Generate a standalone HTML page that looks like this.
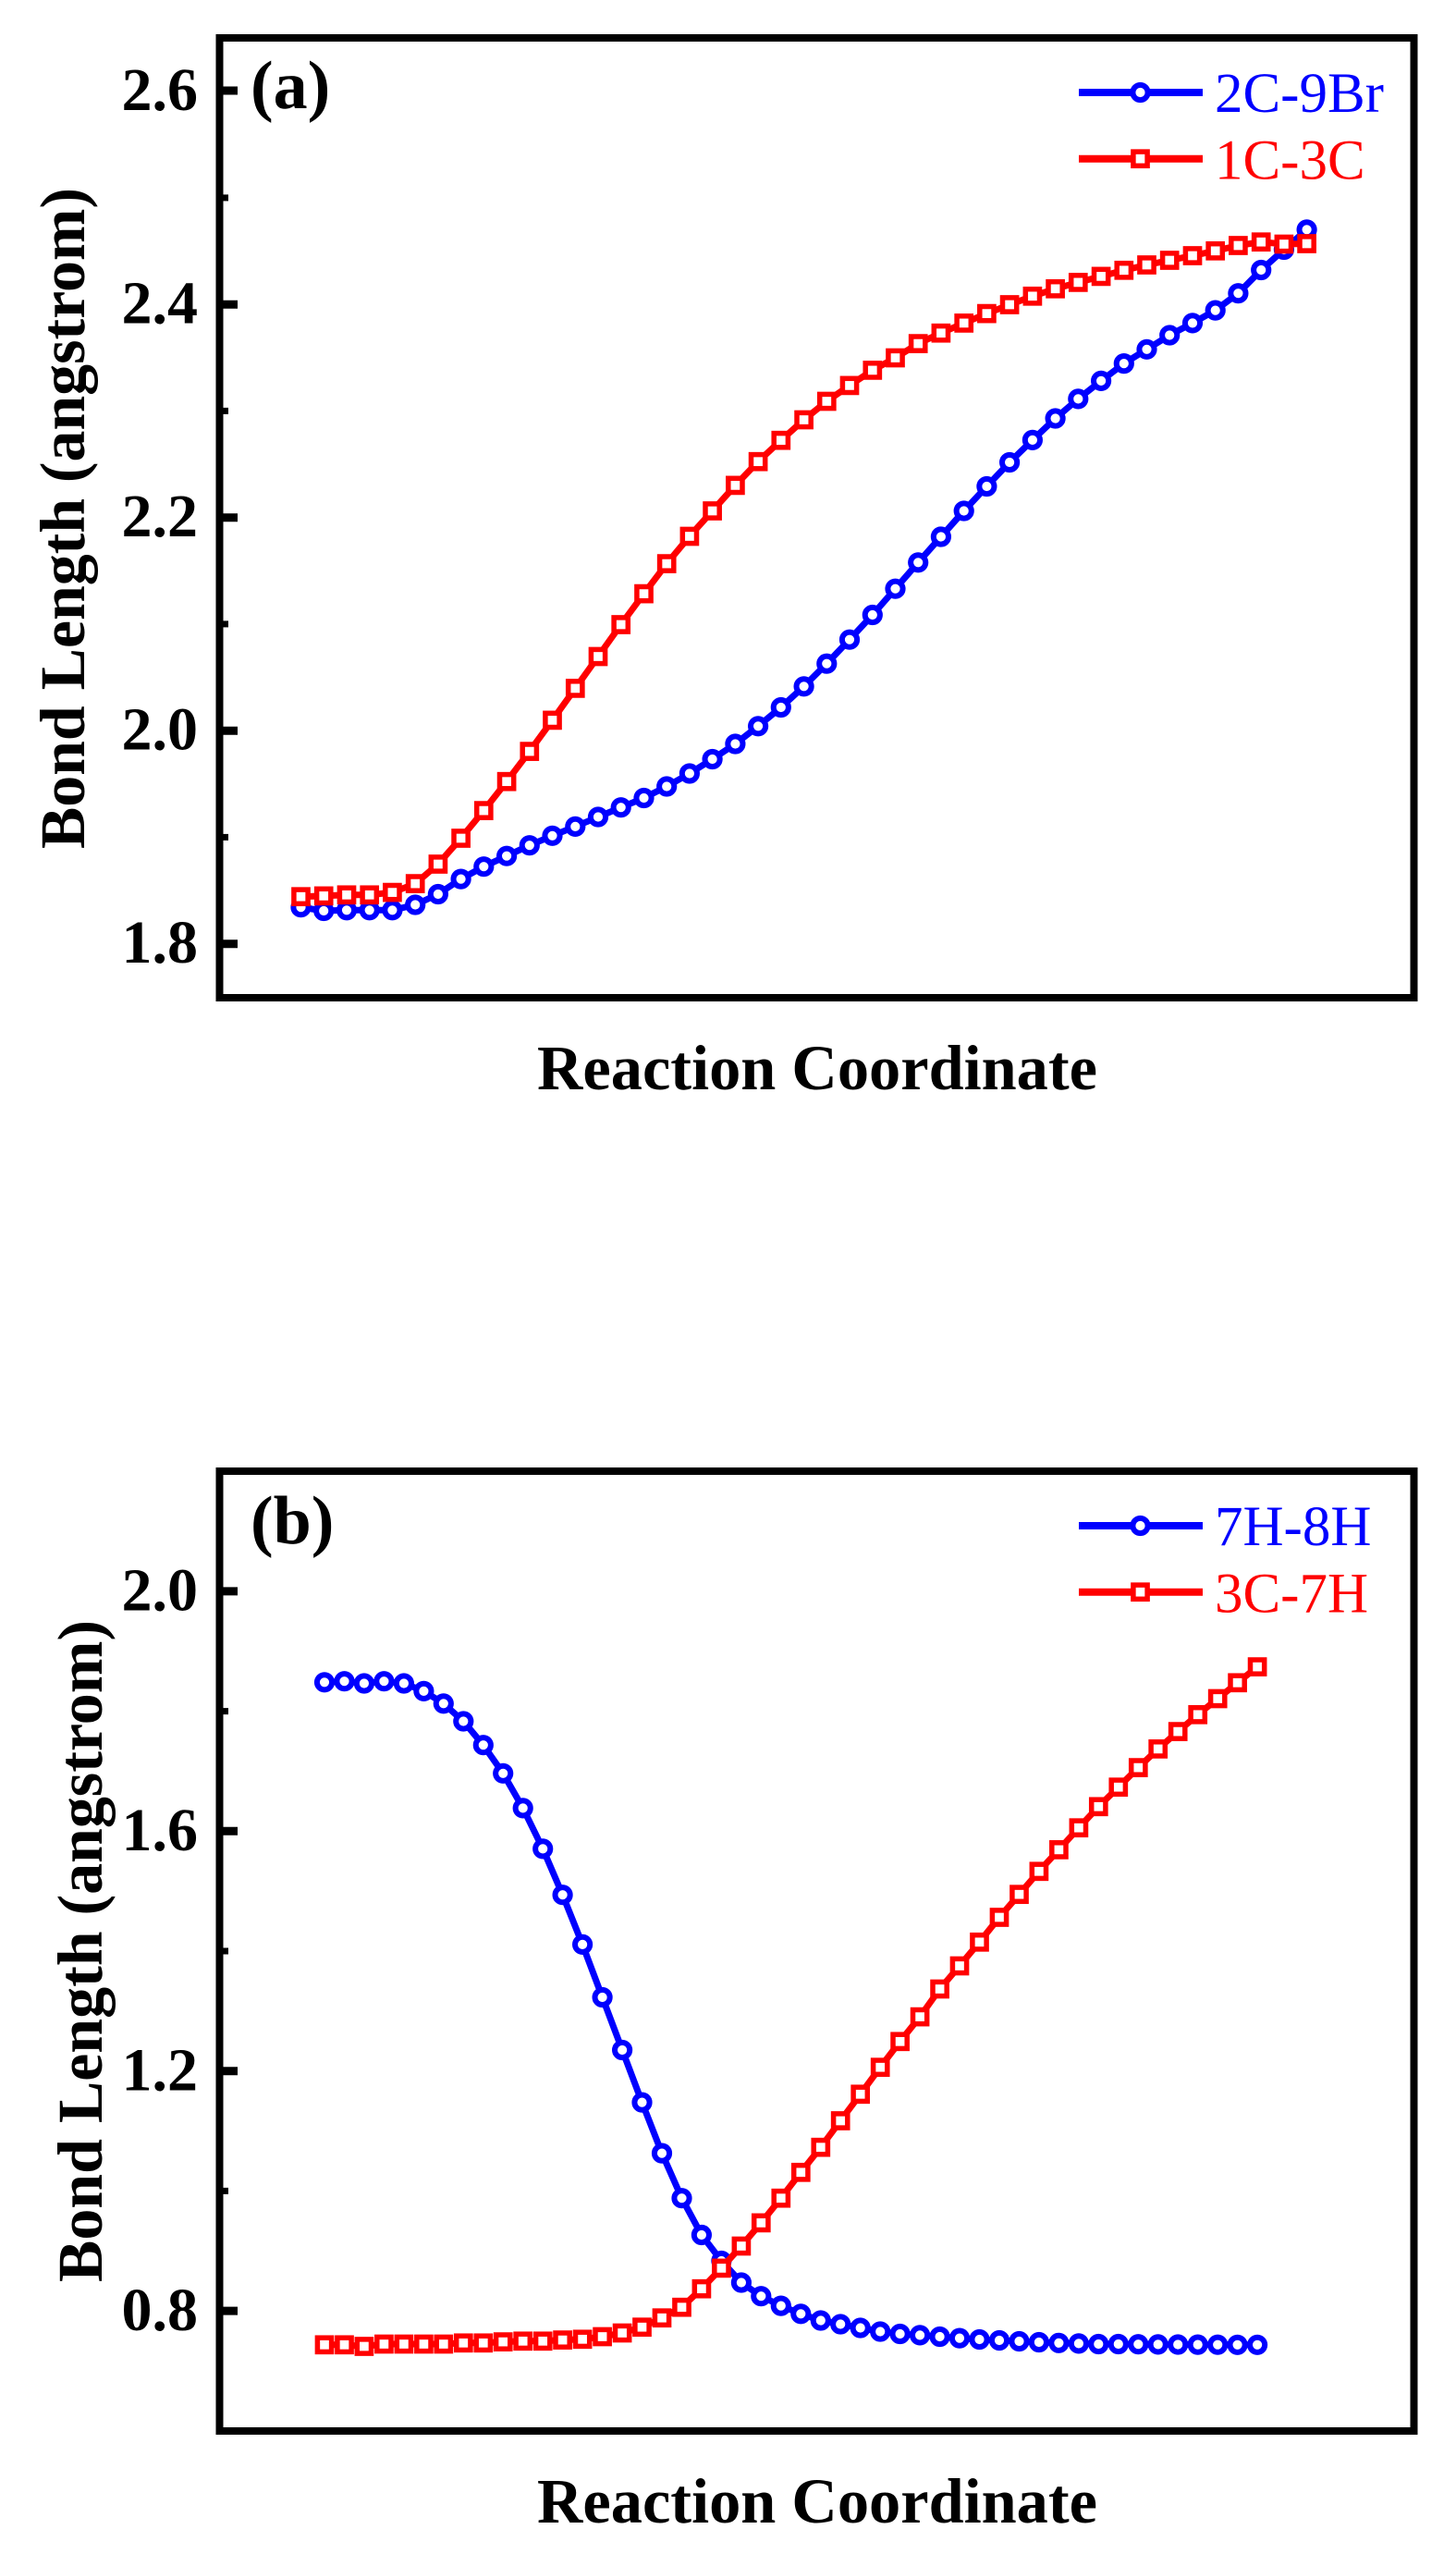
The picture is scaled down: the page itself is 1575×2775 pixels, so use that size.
<!DOCTYPE html>
<html>
<head>
<meta charset="utf-8">
<style>
  html, body { margin: 0; padding: 0; background: #ffffff; }
  svg { display: block; }
  text { font-family: "Liberation Serif", "Times New Roman", serif; }
</style>
</head>
<body>
<svg xmlns="http://www.w3.org/2000/svg" width="1575" height="2775" viewBox="0 0 1575 2775">
  <defs>
    <marker id="mcb" markerUnits="userSpaceOnUse" markerWidth="30" markerHeight="30" refX="15" refY="15" overflow="visible">
      <circle cx="15" cy="15" r="8.1" fill="#ffffff" stroke="#0000ff" stroke-width="6"/>
    </marker>
    <marker id="msr" markerUnits="userSpaceOnUse" markerWidth="30" markerHeight="30" refX="15" refY="15" overflow="visible">
      <rect x="7.4" y="7.4" width="15.2" height="15.2" fill="#ffffff" stroke="#ff0000" stroke-width="5.5"/>
    </marker>
  </defs>
  <rect x="0" y="0" width="1575" height="2775" fill="#ffffff"/>

  <!-- ================= PANEL (a) ================= -->
  <g>
    <!-- ticks -->
    <g stroke="#000">
      <g stroke-width="9">
        <line x1="237" y1="98" x2="257" y2="98"/>
        <line x1="237" y1="329.2" x2="257" y2="329.2"/>
        <line x1="237" y1="559.7" x2="257" y2="559.7"/>
        <line x1="237" y1="790.2" x2="257" y2="790.2"/>
        <line x1="237" y1="1020.7" x2="257" y2="1020.7"/>
      </g>
      <g stroke-width="7">
        <line x1="237" y1="213.9" x2="247" y2="213.9"/>
        <line x1="237" y1="444.4" x2="247" y2="444.4"/>
        <line x1="237" y1="674.9" x2="247" y2="674.9"/>
        <line x1="237" y1="905.4" x2="247" y2="905.4"/>
      </g>
    </g>
    <!-- tick labels -->
    <g font-size="66" font-weight="bold" text-anchor="end" fill="#000">
      <text x="214" y="119">2.6</text>
      <text x="214" y="349.5">2.4</text>
      <text x="214" y="580">2.2</text>
      <text x="214" y="810.5">2.0</text>
      <text x="214" y="1041">1.8</text>
    </g>
    <!-- axis titles -->
    <text transform="translate(91,560.5) rotate(-90)" text-anchor="middle" font-size="69" font-weight="bold" textLength="715" lengthAdjust="spacingAndGlyphs">Bond Length (angstrom)</text>
    <text x="884" y="1178" text-anchor="middle" font-size="69" font-weight="bold" textLength="606" lengthAdjust="spacingAndGlyphs">Reaction Coordinate</text>
    <!-- panel label -->
    <text x="271" y="117" font-size="74" font-weight="bold">(a)</text>

    <!-- blue series 2C-9Br -->
    <polyline fill="none" stroke="#0000ff" stroke-width="7" stroke-linejoin="round"
      marker-start="url(#mcb)" marker-mid="url(#mcb)" marker-end="url(#mcb)"
      points="325.5,981.2 350.2,985 375.0,984.3 399.7,984.3 424.4,984.3 449.2,978.5 473.9,967 498.6,950.6 523.3,937.2 548.1,925.7 572.8,914.2 597.5,903.8 622.3,893.9 647.0,883.5 671.7,873.2 696.5,863 721.2,850.5 745.9,836.5 770.6,821 795.4,804.5 820.1,785.3 844.8,765 869.6,742.3 894.3,717.7 919.0,691.7 943.8,665 968.5,636.7 993.2,608.3 1017.9,580.5 1042.7,552.5 1067.4,526 1092.1,500 1116.9,475.9 1141.6,452.5 1166.3,431.4 1191.1,411.9 1215.8,393.1 1240.5,377.8 1265.2,362.5 1290.0,349.4 1314.7,335.6 1339.4,317.2 1364.2,292 1388.9,270 1413.6,248.3"/>
    <!-- red series 1C-3C -->
    <polyline fill="none" stroke="#ff0000" stroke-width="7" stroke-linejoin="round"
      marker-start="url(#msr)" marker-mid="url(#msr)" marker-end="url(#msr)"
      points="325.5,969.7 350.2,968.9 375.0,967.8 399.7,967.8 424.4,965.1 449.2,955.6 473.9,934.5 498.6,906.5 523.3,876.6 548.1,845.2 572.8,812.6 597.5,778.9 622.3,744.4 647.0,710 671.7,675.5 696.5,642.1 721.2,609.6 745.9,580 770.6,552.5 795.4,524.9 820.1,499.2 844.8,476.2 869.6,454 894.3,434 919.0,416.9 943.8,400.4 968.5,387 993.2,371.6 1017.9,360.2 1042.7,349.4 1067.4,339.1 1092.1,329.5 1116.9,320.3 1141.6,312.3 1166.3,305.4 1191.1,298.9 1215.8,292.3 1240.5,286.5 1265.2,281.5 1290.0,276.5 1314.7,271.3 1339.4,265.5 1364.2,261.7 1388.9,264 1413.6,263.5"/>

    <!-- legend -->
    <line x1="1167" y1="100" x2="1301" y2="100" stroke="#0000ff" stroke-width="8"/>
    <circle cx="1233.5" cy="100" r="8.1" fill="#fff" stroke="#0000ff" stroke-width="6"/>
    <text x="1314" y="121" font-size="61" fill="#0000ff">2C-9Br</text>
    <line x1="1167" y1="171.7" x2="1301" y2="171.7" stroke="#ff0000" stroke-width="8"/>
    <rect x="1225.9" y="164.1" width="15.2" height="15.2" fill="#fff" stroke="#ff0000" stroke-width="5.5"/>
    <text x="1314" y="193.5" font-size="61" fill="#ff0000">1C-3C</text>

    <!-- frame -->
    <rect x="237.5" y="41" width="1292" height="1038" fill="none" stroke="#000" stroke-width="8"/>
  </g>

  <!-- ================= PANEL (b) ================= -->
  <g>
    <!-- ticks -->
    <g stroke="#000">
      <g stroke-width="9">
        <line x1="237" y1="1720.9" x2="257" y2="1720.9"/>
        <line x1="237" y1="1980.3" x2="257" y2="1980.3"/>
        <line x1="237" y1="2239.7" x2="257" y2="2239.7"/>
        <line x1="237" y1="2499.1" x2="257" y2="2499.1"/>
      </g>
      <g stroke-width="7">
        <line x1="237" y1="1850.6" x2="247" y2="1850.6"/>
        <line x1="237" y1="2110" x2="247" y2="2110"/>
        <line x1="237" y1="2369.4" x2="247" y2="2369.4"/>
      </g>
    </g>
    <!-- tick labels -->
    <g font-size="66" font-weight="bold" text-anchor="end" fill="#000">
      <text x="214" y="1741.5">2.0</text>
      <text x="214" y="2001">1.6</text>
      <text x="214" y="2260.5">1.2</text>
      <text x="214" y="2520">0.8</text>
    </g>
    <!-- axis titles -->
    <text transform="translate(110,2110) rotate(-90)" text-anchor="middle" font-size="69" font-weight="bold" textLength="716" lengthAdjust="spacingAndGlyphs">Bond Length (angstrom)</text>
    <text x="884" y="2728" text-anchor="middle" font-size="69" font-weight="bold" textLength="606" lengthAdjust="spacingAndGlyphs">Reaction Coordinate</text>
    <!-- panel label -->
    <text x="271" y="1669" font-size="74" font-weight="bold">(b)</text>

    <!-- blue series 7H-8H -->
    <polyline fill="none" stroke="#0000ff" stroke-width="7" stroke-linejoin="round"
      marker-start="url(#mcb)" marker-mid="url(#mcb)" marker-end="url(#mcb)"
      points="351,1819.3 372.5,1818.2 393.9,1820.5 415.4,1818.2 436.9,1820.5 458.4,1828.9 479.8,1842.3 501.3,1861.5 522.8,1887.2 544.2,1917.8 565.7,1955.4 587.2,1999.4 608.6,2049.2 630.1,2102.9 651.6,2160 673.1,2217 694.5,2273.6 716.0,2328.6 737.5,2377.2 758.9,2417 780.4,2445 801.9,2468.5 823.3,2483.2 844.8,2493.6 866.3,2502.3 887.8,2509.5 909.2,2513.5 930.7,2517.5 952.2,2521.5 973.6,2524 995.1,2525.4 1016.6,2527 1038.0,2528.6 1059.5,2530 1081.0,2531 1102.5,2532 1123.9,2533 1145.4,2533.8 1166.9,2534.4 1188.3,2535 1209.8,2535 1231.3,2535.2 1252.7,2535.4 1274.2,2535.5 1295.7,2535.6 1317.2,2535.7 1338.6,2535.8 1360.1,2535.8"/>
    <!-- red series 3C-7H -->
    <polyline fill="none" stroke="#ff0000" stroke-width="7" stroke-linejoin="round"
      marker-start="url(#msr)" marker-mid="url(#msr)" marker-end="url(#msr)"
      points="351,2535.8 372.5,2535.8 393.9,2537.5 415.4,2535 436.9,2535 458.4,2535 479.8,2535 501.3,2533.8 522.8,2533.8 544.2,2532.6 565.7,2531.8 587.2,2531.8 608.6,2530.6 630.1,2529.8 651.6,2527 673.1,2523 694.5,2516.7 716.0,2506.7 737.5,2495.2 758.9,2475.2 780.4,2452.9 801.9,2429 823.3,2403.9 844.8,2377.2 866.3,2349.3 887.8,2322.2 909.2,2293.5 930.7,2264.8 952.2,2235.7 973.6,2207.8 995.1,2181.1 1016.6,2151 1038.0,2126 1059.5,2100.3 1081.0,2073.5 1102.5,2048.7 1123.9,2023.8 1145.4,2000.4 1166.9,1976.7 1188.3,1953.8 1209.8,1932.7 1231.3,1911.6 1252.7,1891.4 1274.2,1872.6 1295.7,1854.3 1317.2,1837 1338.6,1819.8 1360.1,1802.6"/>

    <!-- legend -->
    <line x1="1167" y1="1650" x2="1301" y2="1650" stroke="#0000ff" stroke-width="8"/>
    <circle cx="1233.5" cy="1650" r="8.1" fill="#fff" stroke="#0000ff" stroke-width="6"/>
    <text x="1314" y="1671" font-size="61" fill="#0000ff">7H-8H</text>
    <line x1="1167" y1="1721.7" x2="1301" y2="1721.7" stroke="#ff0000" stroke-width="8"/>
    <rect x="1225.9" y="1714.1" width="15.2" height="15.2" fill="#fff" stroke="#ff0000" stroke-width="5.5"/>
    <text x="1314" y="1743.5" font-size="61" fill="#ff0000">3C-7H</text>

    <!-- frame -->
    <rect x="237.5" y="1591" width="1292" height="1038" fill="none" stroke="#000" stroke-width="8"/>
  </g>
</svg>
</body>
</html>
